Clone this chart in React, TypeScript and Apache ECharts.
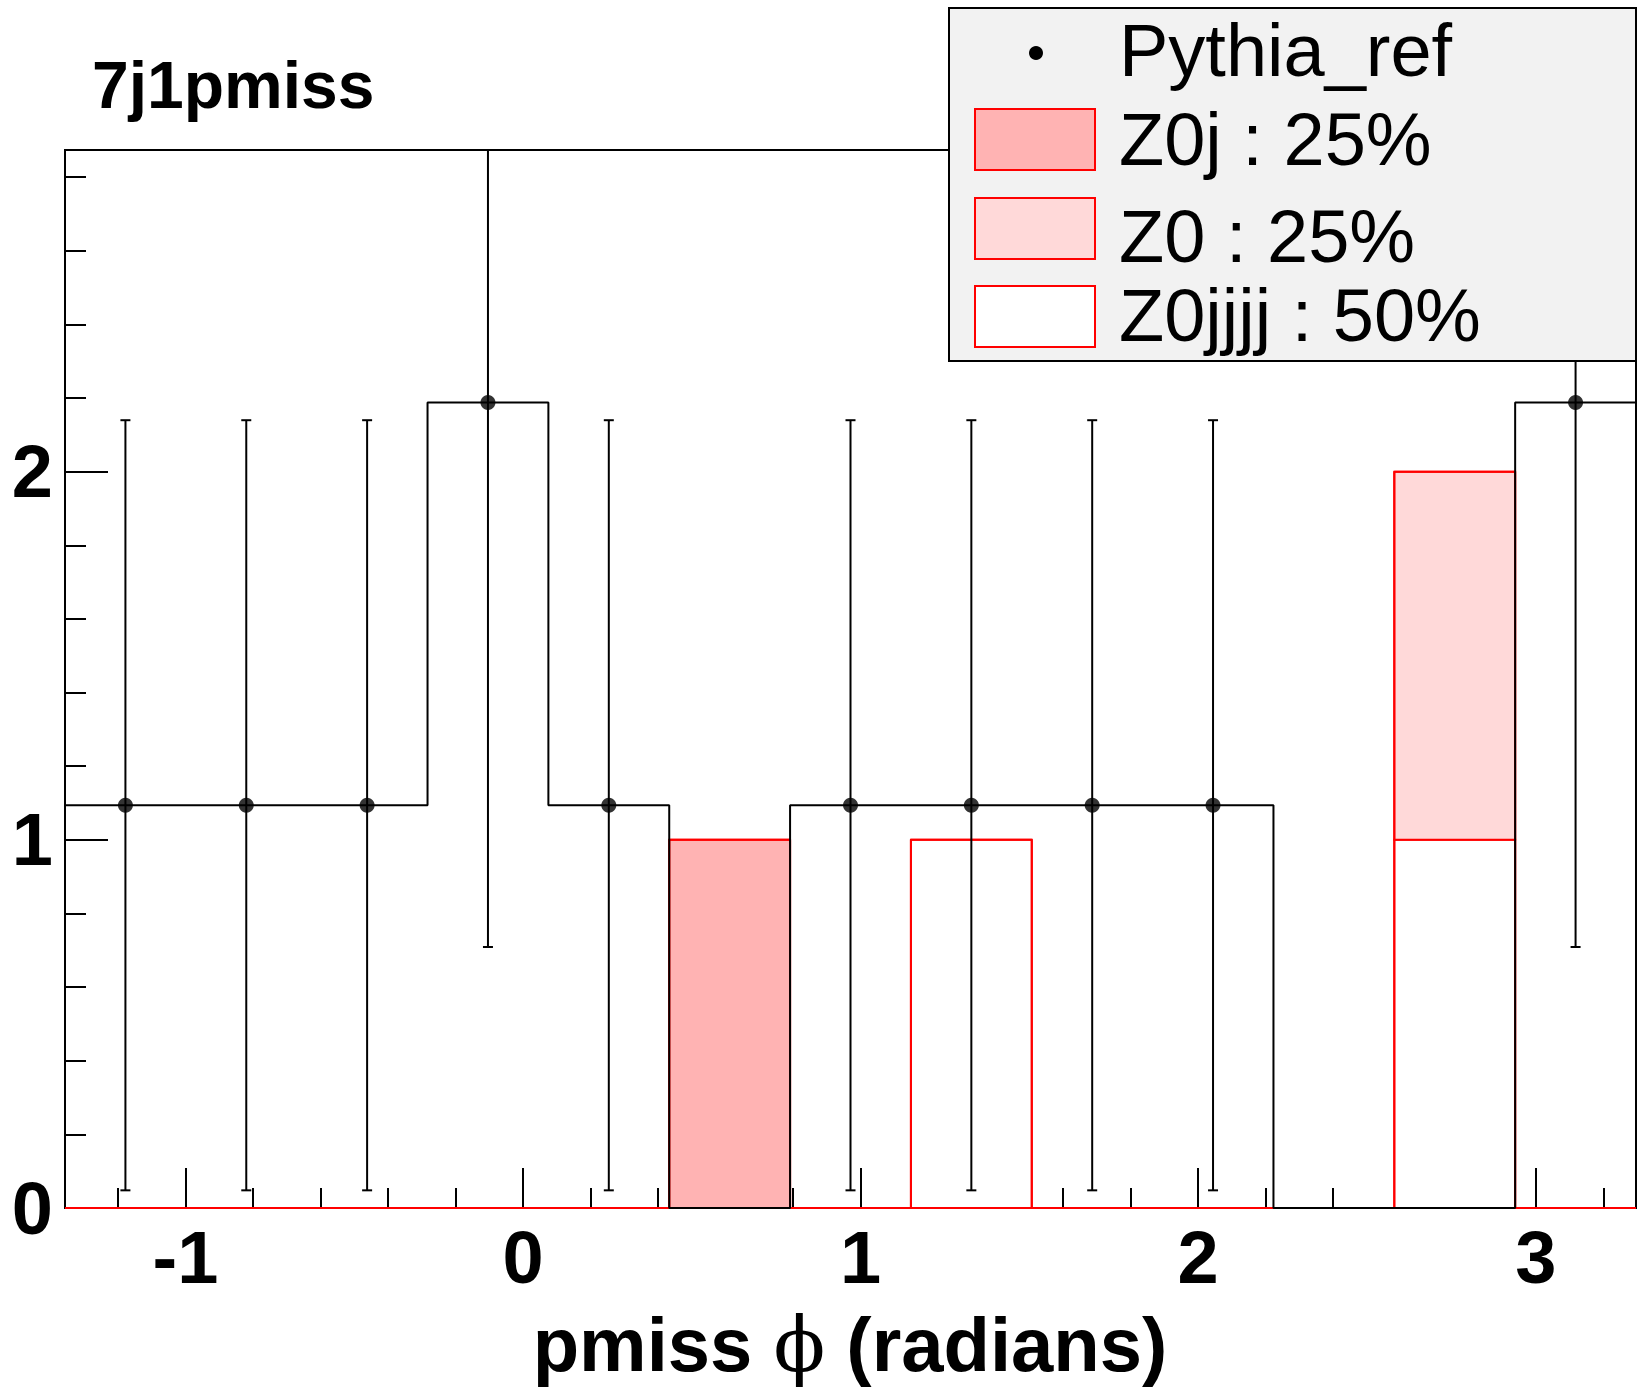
import React, { useEffect, useRef } from "react";
import * as echarts from "echarts";

// ---------- data ----------
const TITLE = "7j1pmiss";
const X_TITLE_MAIN = "pmiss";
const X_TITLE_PHI = "\u03D5";
const X_TITLE_UNIT = "(radians)";
const X_MIN = -1.357;
const X_MAX = 3.297;
const Y_MIN = 0;
const Y_MAX = 2.874;
const BIN_EDGES = [-1.357, -0.999, -0.641, -0.283, 0.075, 0.433, 0.791, 1.149, 1.507, 1.865, 2.223, 2.581, 2.939, 3.297];
const PYTHIA = [1.094, 1.094, 1.094, 2.188, 1.094, 0, 1.094, 1.094, 1.094, 1.094, 0, 0, 2.188];
const PYTHIA_ERR = [1.046, 1.046, 1.046, 1.479, 1.046, 0, 1.046, 1.046, 1.046, 1.046, 0, 0, 1.479];
// stack components, bottom to top
const Z0JJJJ = [0, 0, 0, 0, 0, 0, 0, 1, 0, 0, 0, 1, 0];
const Z0 = [0, 0, 0, 0, 0, 0, 0, 0, 0, 0, 0, 1, 0];
const Z0J = [0, 0, 0, 0, 0, 1, 0, 0, 0, 0, 0, 0, 0];
const X_MAJOR = [-1, 0, 1, 2, 3];
const X_MINOR = [-1.2, -0.8, -0.6, -0.4, -0.2, 0.2, 0.4, 0.6, 0.8, 1.2, 1.4, 1.6, 1.8, 2.2, 2.4, 2.6, 2.8, 3.2];
const Y_MAJOR = [0, 1, 2];
const Y_MINOR = [0.2, 0.4, 0.6, 0.8, 1.2, 1.4, 1.6, 1.8, 2.2, 2.4, 2.6, 2.8];
const LEGEND_LABELS = ["Pythia_ref", "Z0j : 25%", "Z0 : 25%", "Z0jjjj : 50%"];

// ---------- styles ----------
const FONT = '"Liberation Sans", Arial, Helvetica, sans-serif';
const STACK_COMPONENTS = [Z0JJJJ, Z0, Z0J];
const STACK_FILLS = ["#ffffff", "#ffd9d9", "#ffb3b3"];
const RED = "#ff0000";

export default function App() {
  const ref = useRef<HTMLDivElement>(null);

  useEffect(() => {
    document.body.style.margin = "0";
    if (!ref.current) return;
    const chart = echarts.init(ref.current, null, { renderer: "svg" });

    const nBins = PYTHIA.length;
    const stackRects: number[][] = [];
    const totals: number[] = [];
    for (let i = 0; i < nBins; i++) {
      let base = 0;
      STACK_COMPONENTS.forEach((comp, ci) => {
        const v = comp[i];
        if (v > 0) {
          stackRects.push([BIN_EDGES[i], BIN_EDGES[i + 1], base, base + v, ci]);
        }
        base += v;
      });
      totals.push(base);
    }
    const stackOutline = totals.map((t, i) => [BIN_EDGES[i], t]);
    stackOutline.push([BIN_EDGES[nBins], totals[nBins - 1]]);

    const pythiaStep = PYTHIA.map((v, i) => [BIN_EDGES[i], v]);
    pythiaStep.push([BIN_EDGES[nBins], PYTHIA[nBins - 1]]);

    const points: number[][] = [];
    const errs: number[][] = [];
    PYTHIA.forEach((v, i) => {
      if (v > 0) {
        const xc = (BIN_EDGES[i] + BIN_EDGES[i + 1]) / 2;
        points.push([xc, v]);
        errs.push([xc, v, PYTHIA_ERR[i]]);
      }
    });

    const tickLabelStyle = {
      fontFamily: FONT,
      fontWeight: "bold" as const,
      fontSize: 74,
      color: "#000",
    };

    const legendX = 949, legendY = 8, legendW = 687, legendH = 353;
    const rectX = 975, rectW = 120;
    const rectYs = [109, 198, 286];
    const rectH = 61;
    const textX = 1119;
    const textYs = [50, 139, 236, 315];

    const hiddenLine = { show: false, onZero: false };

    const option: any = {
      animation: false,
      backgroundColor: "#ffffff",
      grid: {
        left: 65,
        right: 13,
        top: 150,
        bottom: 184,
        show: true,
        borderColor: "#000",
        borderWidth: 2,
        backgroundColor: "transparent",
        containLabel: false,
      },
      xAxis: [
        {
          type: "value",
          min: X_MIN,
          max: X_MAX,
          position: "bottom",
          axisLine: hiddenLine,
          splitLine: { show: false },
          axisTick: { show: true, inside: true, length: 40, customValues: X_MAJOR, lineStyle: { color: "#000", width: 2 } },
          axisLabel: { show: true, customValues: X_MAJOR, margin: 12, ...tickLabelStyle },
        },
        {
          type: "value",
          min: X_MIN,
          max: X_MAX,
          position: "bottom",
          axisLine: hiddenLine,
          splitLine: { show: false },
          axisTick: { show: true, inside: true, length: 20, customValues: X_MINOR, lineStyle: { color: "#000", width: 2 } },
          axisLabel: { show: false },
        },
      ],
      yAxis: [
        {
          type: "value",
          min: Y_MIN,
          max: Y_MAX,
          position: "left",
          axisLine: hiddenLine,
          splitLine: { show: false },
          axisTick: { show: true, inside: true, length: 43, customValues: Y_MAJOR, lineStyle: { color: "#000", width: 2 } },
          axisLabel: { show: true, customValues: Y_MAJOR, margin: 12, ...tickLabelStyle },
        },
        {
          type: "value",
          min: Y_MIN,
          max: Y_MAX,
          position: "left",
          axisLine: hiddenLine,
          splitLine: { show: false },
          axisTick: { show: true, inside: true, length: 21, customValues: Y_MINOR, lineStyle: { color: "#000", width: 2 } },
          axisLabel: { show: false },
        },
      ],
      series: [
        {
          type: "custom",
          name: "stack",
          xAxisIndex: 0,
          yAxisIndex: 0,
          encode: { x: [0, 1], y: [2, 3] },
          data: stackRects,
          renderItem: (params: any, api: any) => {
            const p0 = api.coord([api.value(0), api.value(3)]);
            const p1 = api.coord([api.value(1), api.value(2)]);
            return {
              type: "rect",
              shape: { x: p0[0], y: p0[1], width: p1[0] - p0[0], height: p1[1] - p0[1] },
              style: { fill: STACK_FILLS[api.value(4)], stroke: RED, lineWidth: 2 },
            };
          },
          z: 2,
        },
        {
          type: "line",
          name: "stackOutline",
          xAxisIndex: 0,
          yAxisIndex: 0,
          data: stackOutline,
          step: "end",
          symbol: "none",
          lineStyle: { color: RED, width: 2 },
          z: 3,
        },
        {
          type: "line",
          name: "Pythia_ref_hist",
          xAxisIndex: 0,
          yAxisIndex: 0,
          data: pythiaStep,
          step: "end",
          symbol: "none",
          lineStyle: { color: "#000", width: 2 },
          z: 4,
        },
        {
          type: "custom",
          name: "errors",
          xAxisIndex: 0,
          yAxisIndex: 0,
          encode: { x: 0, y: 1 },
          data: errs,
          renderItem: (params: any, api: any) => {
            const x = api.value(0);
            const v = api.value(1);
            const e = api.value(2);
            const lo = Math.max(v - e, Y_MIN);
            const hiRaw = v + e;
            const hi = Math.min(hiRaw, Y_MAX);
            const pLo = api.coord([x, lo]);
            const pHi = api.coord([x, hi]);
            const children: any[] = [
              { type: "line", shape: { x1: pLo[0], y1: pLo[1], x2: pHi[0], y2: pHi[1] }, style: { stroke: "#000", lineWidth: 2 } },
              { type: "line", shape: { x1: pLo[0] - 5, y1: pLo[1], x2: pLo[0] + 5, y2: pLo[1] }, style: { stroke: "#000", lineWidth: 2 } },
            ];
            if (hiRaw <= Y_MAX) {
              children.push({ type: "line", shape: { x1: pHi[0] - 5, y1: pHi[1], x2: pHi[0] + 5, y2: pHi[1] }, style: { stroke: "#000", lineWidth: 2 } });
            }
            return { type: "group", children };
          },
          z: 5,
        },
        {
          type: "scatter",
          name: "Pythia_ref",
          xAxisIndex: 0,
          yAxisIndex: 0,
          data: points,
          symbol: "circle",
          symbolSize: 15,
          itemStyle: { color: "#000" },
          z: 6,
        },
      ],
      graphic: [
        {
          type: "text",
          x: 92,
          y: 85,
          style: {
            text: TITLE,
            font: `bold 66px ${FONT}`,
            fill: "#000",
            verticalAlign: "middle",
            align: "left",
          },
          z: 50,
        },
        {
          type: "text",
          x: 850,
          y: 1344,
          style: {
            text: `{b|${X_TITLE_MAIN} }{p|${X_TITLE_PHI}}{b| ${X_TITLE_UNIT}}`,
            align: "center",
            verticalAlign: "middle",
            fill: "#000",
            rich: {
              b: { fontFamily: FONT, fontWeight: "bold", fontSize: 76, fill: "#000", color: "#000" },
              p: { fontFamily: '"DejaVu Serif", "Liberation Serif", serif', fontWeight: "normal", fontSize: 76, fill: "#000", color: "#000" },
            },
          },
          z: 50,
        },
        {
          type: "group",
          z: 100,
          children: [
            {
              type: "rect",
              shape: { x: legendX, y: legendY, width: legendW, height: legendH },
              style: { fill: "#f2f2f2", stroke: "#000", lineWidth: 2 },
              z: 100,
            },
            {
              type: "circle",
              shape: { cx: 1036, cy: 53, r: 7 },
              style: { fill: "#000" },
              z: 101,
            },
            ...rectYs.map((ry, i) => ({
              type: "rect",
              shape: { x: rectX, y: ry, width: rectW, height: rectH },
              style: { fill: STACK_FILLS[2 - i], stroke: RED, lineWidth: 2 },
              z: 101,
            })),
            ...LEGEND_LABELS.map((t, i) => ({
              type: "text",
              x: textX,
              y: textYs[i],
              style: {
                text: t,
                font: `74px ${FONT}`,
                fill: "#000",
                verticalAlign: "middle",
                align: "left",
              },
              z: 101,
            })),
          ],
        },
      ],
    };

    chart.setOption(option);
    return () => {
      chart.dispose();
    };
  }, []);

  return <div ref={ref} style={{ width: 1649, height: 1392 }} />;
}
